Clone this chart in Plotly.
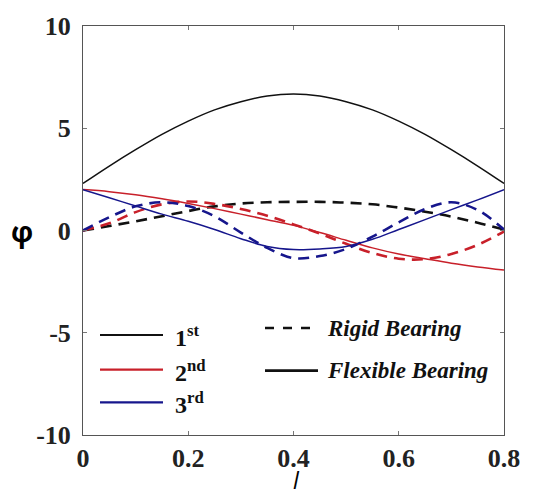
import plotly.graph_objects as go

# Normalised position along the shaft
pos = [0.0, 0.05, 0.1, 0.15, 0.2, 0.25, 0.3, 0.35, 0.4, 0.45, 0.5, 0.55, 0.6, 0.65, 0.7, 0.75, 0.8]

# Mode shapes, flexible bearing (solid)
flex_1st = [2.3, 3.15, 3.95, 4.7, 5.35, 5.9, 6.3, 6.58, 6.68, 6.58, 6.3, 5.9, 5.35, 4.7, 3.95, 3.15, 2.3]
flex_2nd = [2.0, 1.9, 1.75, 1.55, 1.32, 1.07, 0.8, 0.53, 0.25, -0.1, -0.48, -0.85, -1.15, -1.38, -1.6, -1.78, -1.93]
flex_3rd = [2.0, 1.6, 1.2, 0.8, 0.45, 0.05, -0.4, -0.78, -0.93, -0.9, -0.78, -0.43, 0.05, 0.53, 1.02, 1.5, 2.0]

# Mode shapes, rigid bearing (dashed)
rigid_1st = [0.0, 0.22, 0.45, 0.7, 0.95, 1.18, 1.32, 1.38, 1.4, 1.4, 1.36, 1.28, 1.12, 0.92, 0.68, 0.38, 0.05]
rigid_2nd = [0.0, 0.35, 0.9, 1.28, 1.42, 1.3, 1.05, 0.72, 0.3, -0.15, -0.65, -1.1, -1.38, -1.4, -1.15, -0.7, -0.05]
rigid_3rd = [0.0, 0.65, 1.18, 1.38, 1.2, 0.7, -0.1, -0.85, -1.35, -1.25, -0.9, -0.3, 0.4, 1.05, 1.38, 1.0, 0.05]

x_ticks = [0, 0.2, 0.4, 0.6, 0.8]
x_tick_text = ["0", "0.2", "0.4", "0.6", "0.8"]
y_ticks = [-10, -5, 0, 5, 10]
y_tick_text = ["-10", "-5", "0", "5", "10"]

BLACK = "#111111"
RED = "#c8202a"
BLUE = "#16168c"

fig = go.Figure()

for ys, col in [(rigid_1st, BLACK), (rigid_2nd, RED), (rigid_3rd, BLUE)]:
    fig.add_trace(go.Scatter(
        x=pos, y=ys, mode="lines",
        line=dict(color=col, width=2.6, dash="11px,7px", shape="spline", smoothing=1.0),
        showlegend=False, hoverinfo="skip"))

for ys, col in [(flex_1st, BLACK), (flex_2nd, RED), (flex_3rd, BLUE)]:
    fig.add_trace(go.Scatter(
        x=pos, y=ys, mode="lines",
        line=dict(color=col, width=1.5, shape="spline", smoothing=1.0),
        showlegend=False, hoverinfo="skip"))

# plot box in pixels: left 83, right 504, top 22, bottom 435
L, R, T, B = 83, 504, 22, 435
def px(xp):
    return (xp - L) / (R - L)
def py(yp):
    return (B - yp) / (B - T)

shapes = []
annos = []
serif = "Liberation Serif"

# mode-number key
for yp, col, lab in [(334, BLACK, "1<sup>st</sup>"), (369, RED, "2<sup>nd</sup>"), (402, BLUE, "3<sup>rd</sup>")]:
    shapes.append(dict(type="line", xref="paper", yref="paper",
                       x0=px(100), x1=px(163), y0=py(yp), y1=py(yp),
                       line=dict(color=col, width=2.2)))
    annos.append(dict(xref="paper", yref="paper", x=px(173), y=py(yp + 1),
                      xanchor="left", yanchor="middle", showarrow=False,
                      text="<b>" + lab + "</b>",
                      font=dict(family=serif, size=24, color="#111111")))

# bearing-type key
for yp, dash, lab in [(327, "dash", "Rigid Bearing"), (370, "solid", "Flexible Bearing")]:
    shapes.append(dict(type="line", xref="paper", yref="paper",
                       x0=px(265), x1=px(318), y0=py(yp), y1=py(yp),
                       line=dict(color="#111111", width=2.6, dash=dash)))
    annos.append(dict(xref="paper", yref="paper", x=px(325), y=py(yp),
                      xanchor="left", yanchor="middle", showarrow=False,
                      text="<b><i>" + lab + "</i></b>",
                      font=dict(family=serif, size=23, color="#111111")))

# axis titles
annos.append(dict(xref="paper", yref="paper", x=px(22), y=py(229),
                  xanchor="center", yanchor="middle", showarrow=False,
                  text="<b>φ</b>", font=dict(family="Open Sans", size=28, color="#000000")))
annos.append(dict(xref="paper", yref="paper", x=px(296), y=py(499),
                  xanchor="center", yanchor="bottom", showarrow=False,
                  text="<i>l</i>", font=dict(family="Open Sans", size=23, color="#000000")))

axis_common = dict(
    showgrid=False, zeroline=False, showline=True, linecolor="#555555", linewidth=1,
    mirror="ticks", ticks="inside", ticklen=4, tickcolor="#777777",
    tickfont=dict(family=serif, size=26, color="#222222", weight="bold"),
)

fig.update_layout(
    width=552, height=500,
    margin=dict(l=L, r=552 - R, t=T, b=500 - B),
    paper_bgcolor="white", plot_bgcolor="white",
    xaxis=dict(range=[0, 0.8], tickvals=x_ticks, ticktext=x_tick_text, ticklabelstandoff=0, **axis_common),
    yaxis=dict(range=[-10, 10], tickvals=y_ticks, ticktext=y_tick_text, ticklabelstandoff=6, **axis_common),
    shapes=shapes, annotations=annos,
)

fig.write_html("out.html")
